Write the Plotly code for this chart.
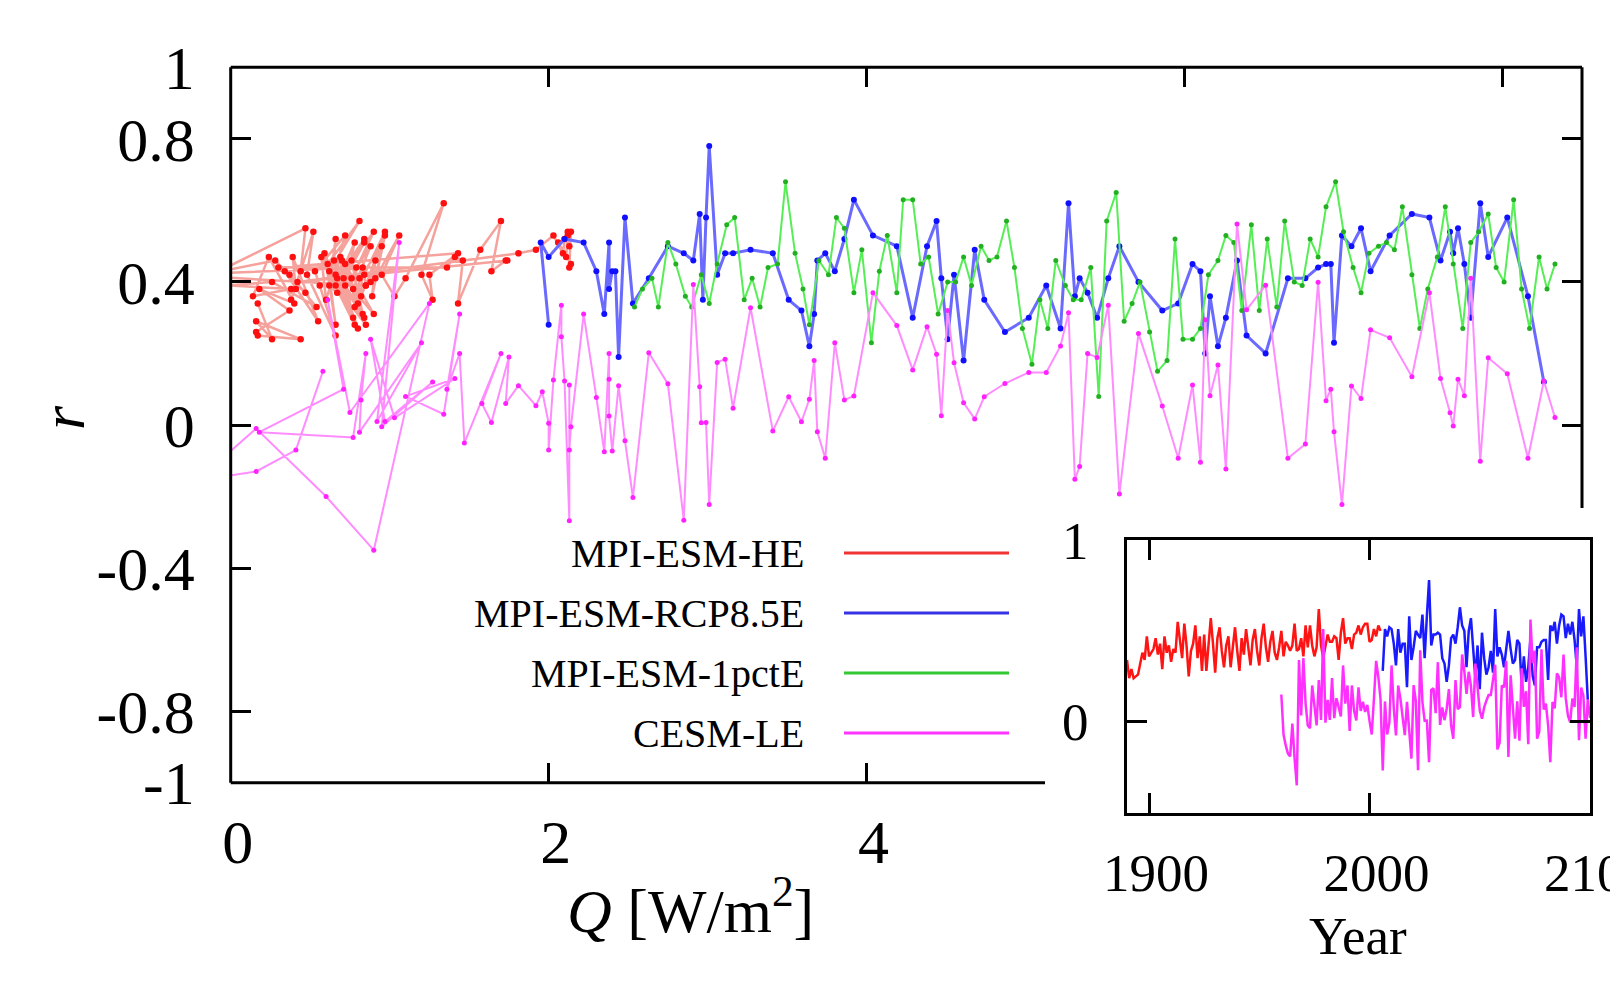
import plotly.graph_objects as go

W, H = 1618, 985
FONT = "Liberation Serif"

# ---------------- data ----------------
# MPI-ESM-HE (historical), yearly from 1890
red_start_year = 1890
red_q = [0.17, 0.26, 0.16, 0.44, 0.17, 0.16, 0.37, 0.18, 0.40, 0.24,
         0.14, 0.38, -0.40, 0.28, 0.47, 0.34, 0.55, 0.39, 0.41, 0.37,
         0.54, 0.26, -0.30, 0.47, 0.44, 0.38, 0.52, 0.48, 0.66, 0.56,
         0.53, 0.72, 0.60, 0.57, 0.78, 0.59, 0.66, 0.61, 0.81, 0.62,
         0.80, 0.65, 0.66, 0.62, 0.84, 0.66, 0.69, 0.77, 0.67, 0.84,
         0.66, 0.85, 0.70, 0.67, 0.84, 0.71, 0.90, 0.72, 0.78, 0.72,
         0.83, 0.76, 0.90, 0.76, 0.78, 0.79, 0.88, 0.77, 0.80, 0.81,
         0.95, 0.82, 0.83, -0.35, 0.85, 0.84, 0.97, 0.85, 0.88, 0.91,
         0.89, 0.97, 0.91, 1.06, 0.95, 1.03, 1.10, 1.34, 1.20, 1.27,
         1.25, 1.43, 0.30, 1.36, 1.41, 1.46, 1.43, 1.57, 1.70, 1.64,
         1.73, 1.74, 0.42, 1.81, 1.92, 2.03, 2.09, 2.10, 2.12, 2.14,
         2.13, 2.14, 2.06, 2.11, 2.12, 2.13]
red_r = [0.34, 0.24, 0.29, 0.24, 0.25, 0.26, 0.32, 0.38, 0.34, 0.47,
         0.36, 0.38, 0.40, 0.46, 0.37, 0.43, 0.29, 0.47, 0.38, 0.42,
         0.33, 0.40, 0.38, 0.55, 0.43, 0.35, 0.54, 0.42, 0.25, 0.39,
         0.43, 0.53, 0.35, 0.47, 0.28, 0.48, 0.28, 0.45, 0.57, 0.43,
         0.27, 0.46, 0.52, 0.39, 0.30, 0.42, 0.47, 0.30, 0.41, 0.52,
         0.39, 0.28, 0.46, 0.37, 0.51, 0.41, 0.31, 0.45, 0.51, 0.39,
         0.31, 0.46, 0.54, 0.41, 0.33, 0.44, 0.50, 0.38, 0.34, 0.41,
         0.50, 0.36, 0.44, 0.42, 0.39, 0.42, 0.54, 0.39, 0.40, 0.46,
         0.36, 0.53, 0.41, 0.53, 0.42, 0.36, 0.41, 0.62, 0.42, 0.35,
         0.42, 0.48, 0.44, 0.44, 0.47, 0.46, 0.34, 0.49, 0.57, 0.43,
         0.46, 0.46, 0.40, 0.48, 0.49, 0.53, 0.48, 0.52, 0.54, 0.54,
         0.44, 0.45, 0.51, 0.47, 0.53, 0.50]

# MPI-ESM-RCP8.5E, yearly from 2006
blue_start_year = 2006
blue_q = [2.00, 1.95, 2.00, 2.10, 2.22, 2.30, 2.35, 2.38, 2.38, 2.40,
          2.42, 2.44, 2.48, 2.53, 2.63, 2.75, 2.85, 2.91, 2.95, 2.97,
          2.99, 3.01, 3.06, 3.11, 3.16, 3.27, 3.41, 3.51, 3.59, 3.64,
          3.67, 3.69, 3.74, 3.80, 3.86, 3.92, 4.04, 4.19, 4.29, 4.38,
          4.44, 4.47, 4.51, 4.55, 4.61, 4.68, 4.74, 4.87, 5.02, 5.13,
          5.22, 5.27, 5.31, 5.34, 5.39, 5.45, 5.52, 5.59, 5.71, 5.86,
          5.96, 6.05, 6.10, 6.13, 6.16, 6.21, 6.26, 6.33, 6.39, 6.51,
          6.65, 6.76, 6.84, 6.89, 6.92, 6.94, 6.99, 7.05, 7.11, 7.17,
          7.29, 7.43, 7.54, 7.61, 7.67, 7.69, 7.72, 7.76, 7.80, 7.86,
          7.91, 8.03, 8.16, 8.26]
blue_r = [0.28, 0.51, 0.47, 0.52, 0.51, 0.43, 0.31, 0.51, 0.38, 0.43,
          0.43, 0.19, 0.58, 0.34, 0.41, 0.50, 0.48, 0.46, 0.59, 0.35,
          0.58, 0.78, 0.42, 0.48, 0.48, 0.49, 0.48, 0.35, 0.32, 0.22,
          0.31, 0.46, 0.48, 0.43, 0.52, 0.63, 0.53, 0.50, 0.30, 0.50,
          0.57, 0.41, 0.24, 0.42, 0.18, 0.49, 0.35, 0.26, 0.30, 0.39,
          0.27, 0.62, 0.36, 0.41, 0.37, 0.30, 0.41, 0.50, 0.40, 0.32,
          0.34, 0.45, 0.43, 0.20, 0.36, 0.22, 0.30, 0.46, 0.25, 0.20,
          0.41, 0.41, 0.44, 0.45, 0.45, 0.23, 0.53, 0.50, 0.55, 0.43,
          0.53, 0.59, 0.58, 0.46, 0.54, 0.48, 0.55, 0.45, 0.30, 0.62,
          0.47, 0.58, 0.36, 0.12]

# MPI-ESM-1pctE
green_q = [2.54, 2.59, 2.65, 2.69, 2.75, 2.80, 2.86, 2.90, 2.96, 3.01,
           3.06, 3.12, 3.17, 3.23, 3.28, 3.33, 3.38, 3.44, 3.49, 3.55,
           3.60, 3.64, 3.70, 3.76, 3.81, 3.86, 3.92, 3.97, 4.03, 4.08,
           4.13, 4.19, 4.23, 4.29, 4.34, 4.39, 4.45, 4.51, 4.56, 4.61,
           4.66, 4.72, 4.77, 4.82, 4.88, 4.93, 4.98, 5.04, 5.09, 5.14,
           5.19, 5.25, 5.30, 5.35, 5.41, 5.46, 5.51, 5.57, 5.62, 5.67,
           5.72, 5.78, 5.83, 5.89, 5.94, 5.99, 6.05, 6.10, 6.15, 6.21,
           6.26, 6.31, 6.36, 6.42, 6.47, 6.52, 6.58, 6.63, 6.69, 6.74,
           6.79, 6.84, 6.89, 6.95, 7.00, 7.06, 7.11, 7.16, 7.22, 7.27,
           7.32, 7.37, 7.43, 7.48, 7.53, 7.59, 7.64, 7.69, 7.75, 7.80,
           7.85, 7.91, 7.96, 8.01, 8.07, 8.12, 8.17, 8.23, 8.28, 8.33]
green_r = [0.33, 0.38, 0.41, 0.33, 0.51, 0.45, 0.36, 0.33, 0.42, 0.34,
           0.45, 0.56, 0.58, 0.35, 0.41, 0.33, 0.44, 0.45, 0.68, 0.48,
           0.38, 0.28, 0.46, 0.42, 0.58, 0.55, 0.37, 0.49, 0.23, 0.43,
           0.53, 0.37, 0.63, 0.63, 0.45, 0.47, 0.31, 0.40, 0.40, 0.47,
           0.39, 0.50, 0.46, 0.47, 0.57, 0.44, 0.27, 0.17, 0.35, 0.27,
           0.46, 0.39, 0.35, 0.35, 0.44, 0.08, 0.57, 0.65, 0.29, 0.34,
           0.40, 0.26, 0.15, 0.18, 0.52, 0.24, 0.24, 0.27, 0.42, 0.46,
           0.53, 0.51, 0.32, 0.56, 0.32, 0.52, 0.33, 0.57, 0.40, 0.39,
           0.52, 0.47, 0.61, 0.68, 0.54, 0.44, 0.37, 0.48, 0.50, 0.51,
           0.49, 0.61, 0.42, 0.27, 0.38, 0.47, 0.61, 0.45, 0.27, 0.51,
           0.54, 0.59, 0.44, 0.40, 0.63, 0.38, 0.27, 0.47, 0.38, 0.45]

# CESM-LE, yearly from 1960
pink_start_year = 1960
pink_q = [0.58, 0.41, 0.16, -0.50, -0.30, 0.16, 0.60, 0.90, 1.25, 0.75,
          0.61, 0.71, 0.18, 0.77, 0.85, 0.82, 0.81, 1.20, 0.92, 1.06,
          0.95, 1.27, 0.97, 0.88, 1.03, 1.41, 1.10, 1.34, 1.44, 1.36,
          1.44, 1.47, 1.70, 1.58, 1.64, 1.75, 1.73, 1.81, 1.92, 1.96,
          2.00, 2.00, 2.03, 2.08, 2.08, 2.10, 2.13, 2.13, 2.13, 2.14,
          2.22, 2.30, 2.35, 2.38, 2.38, 2.38, 2.40, 2.44, 2.48, 2.53,
          2.63, 2.75, 2.85, 2.91, 2.95, 2.96, 2.99, 3.01, 3.06, 3.11,
          3.16, 3.27, 3.41, 3.51, 3.59, 3.64, 3.67, 3.69, 3.74, 3.80,
          3.86, 3.92, 4.04, 4.19, 4.29, 4.38, 4.44, 4.47, 4.51, 4.55,
          4.61, 4.68, 4.74, 4.87, 5.02, 5.13, 5.22, 5.27, 5.31, 5.34,
          5.39, 5.45, 5.52, 5.59, 5.71, 5.86, 5.96, 6.05, 6.10, 6.13,
          6.16, 6.21, 6.26, 6.33, 6.39, 6.51, 6.65, 6.76, 6.84, 6.89,
          6.92, 6.94, 6.99, 7.05, 7.11, 7.17, 7.29, 7.43, 7.54, 7.61,
          7.67, 7.69, 7.72, 7.76, 7.80, 7.86, 7.91, 8.03, 8.16, 8.26,
          8.33]
pink_r = [0.15, -0.07, -0.13, -0.175, -0.19, -0.01, -0.20, -0.35, 0.34, 0.035,
          0.35, 0.10, -0.02, -0.035, 0.20, 0.07, -0.02, 0.23, 0.01, 0.51,
          -0.005, 0.12, 0.01, 0.24, 0.02, 0.13, 0.08, 0.03, 0.31, 0.10,
          0.20, -0.05, 0.20, 0.06, 0.007, 0.19, 0.06, 0.11, 0.054, 0.093,
          0.005, -0.07, 0.126, 0.335, 0.247, 0.123, -0.268, 0.112, -0.07, -0.005,
          0.31, 0.077, -0.075, 0.20, 0.128, 0.025, -0.073, 0.11, -0.044, -0.203,
          0.202, 0.115, -0.266, 0.393, 0.107, 0.006, 0.007, -0.222, 0.175, 0.184,
          0.047, 0.328, -0.017, 0.079, 0.009, 0.072, 0.18, -0.019, -0.093, 0.23,
          0.07, 0.081, 0.37, 0.278, 0.154, 0.275, 0.198, 0.026, 0.32, 0.174,
          0.062, 0.017, 0.079, 0.116, 0.147, 0.147, 0.221, 0.314, -0.152, -0.116,
          0.20, 0.189, 0.335, -0.193, 0.256, 0.053, -0.093, 0.112, -0.104, 0.294,
          0.082, 0.168, -0.123, 0.562, 0.322, 0.391, -0.093, -0.053, 0.399, 0.068,
          0.10, -0.019, -0.222, 0.109, 0.074, 0.266, 0.244, 0.135, 0.37, 0.13,
          0.034, -0.003, 0.128, 0.082, 0.41, -0.101, 0.188, 0.143, -0.093, 0.123,
          0.021]

red_years = list(range(red_start_year, red_start_year + len(red_r)))
blue_years = list(range(blue_start_year, blue_start_year + len(blue_r)))
pink_years = list(range(pink_start_year, pink_start_year + len(pink_r)))

series_names = ["MPI-ESM-HE", "MPI-ESM-RCP8.5E", "MPI-ESM-1pctE", "CESM-LE"]
legend_colors = ["#f03434", "#3434e6", "#34c834", "#ff34ff"]

main_ticks_y = [-1, -0.8, -0.4, 0, 0.4, 0.8, 1]
main_ticks_y_text = ["-1", "-0.8", "-0.4", "0", "0.4", "0.8", "1"]

# ---------------- geometry (screen pixels) ----------------
OFF = 8  # page body margin
MX0, MX1, MY_TOP, MY_BOT = 230.7, 1582.0, 67.3, 782.7
IX0, IX1, IY_TOP, IY_BOT = 1127.0, 1590.0, 540.0, 812.7
CUT_X, CUT_Y = 1045.0, 508.0


def fx(p):
    return (p - OFF) / W


def fy(p):
    return 1 - (p - OFF) / H


fig = go.Figure()

# main panel
fig.add_trace(go.Scatter(x=red_q, y=red_r, mode="lines+markers", name=series_names[0],
                         line=dict(color="#f5a29c", width=2.5),
                         marker=dict(color="#ff1010", size=6.5), xaxis="x", yaxis="y"))
fig.add_trace(go.Scatter(x=blue_q, y=blue_r, mode="lines+markers", name=series_names[1],
                         line=dict(color="#6a6aff", width=3),
                         marker=dict(color="#1010ff", size=6), xaxis="x", yaxis="y"))
fig.add_trace(go.Scatter(x=green_q, y=green_r, mode="lines+markers", name=series_names[2],
                         line=dict(color="#55ee55", width=2),
                         marker=dict(color="#22b022", size=5), xaxis="x", yaxis="y"))
fig.add_trace(go.Scatter(x=pink_q, y=pink_r, mode="lines+markers", name=series_names[3],
                         line=dict(color="#ff8cff", width=2),
                         marker=dict(color="#ff22ff", size=5), xaxis="x", yaxis="y"))
# holders for the mirrored tick axes
fig.add_trace(go.Scatter(x=[], y=[], xaxis="x2", yaxis="y2", showlegend=False, hoverinfo="skip"))

# inset
fig.add_trace(go.Scatter(x=red_years, y=red_r, mode="lines", line=dict(color="#ff1414", width=2.5),
                         xaxis="x3", yaxis="y3", showlegend=False))
fig.add_trace(go.Scatter(x=blue_years, y=blue_r, mode="lines", line=dict(color="#1a1aff", width=2.5),
                         xaxis="x3", yaxis="y3", showlegend=False))
fig.add_trace(go.Scatter(x=pink_years, y=pink_r, mode="lines", line=dict(color="#ff30ff", width=2.5),
                         xaxis="x3", yaxis="y3", showlegend=False))

tick_common = dict(ticks="inside", ticklen=20, tickwidth=2.5, tickcolor="black",
                   showgrid=False, zeroline=False, automargin=False)
big_font = dict(family=FONT, size=62, color="black")
inset_font = dict(family=FONT, size=53, color="black")

main_xd = [fx(MX0), fx(MX1)]
main_yd = [fy(MY_BOT), fy(MY_TOP)]

fig.update_layout(
    template="none",
    width=W, height=H, autosize=False,
    margin=dict(l=0, r=0, t=0, b=0, pad=0),
    paper_bgcolor="white", plot_bgcolor="rgba(0,0,0,0)",
    showlegend=False,
    xaxis=dict(domain=main_xd, range=[0, 8.5], anchor="y", tickvals=[0, 2, 4],
               ticktext=["0", "2", "4"], showline=False, tickfont=big_font,
               ticklabelstandoff=17, ticklabelshift=7, **tick_common),
    xaxis2=dict(domain=main_xd, range=[0, 8.5], anchor="y", overlaying="x", side="top",
                tickvals=[2, 4, 6, 8], showticklabels=False, showline=False, **tick_common),
    yaxis=dict(domain=main_yd, range=[-1, 1], anchor="x", tickvals=main_ticks_y,
               ticktext=main_ticks_y_text, showline=False, tickfont=big_font,
               ticklabelstandoff=35, **tick_common),
    yaxis2=dict(domain=main_yd, range=[-1, 1], anchor="x", overlaying="y", side="right",
                tickvals=[0, 0.4, 0.8], showticklabels=False, showline=False, **tick_common),
    xaxis3=dict(domain=[fx(IX0), fx(IX1)], range=[1890, 2100], anchor="y3",
                tickvals=[1900, 2000, 2100], ticktext=["1900", "2000", "2100"],
                showline=True, linecolor="black", linewidth=3, mirror="ticks",
                ticklabeloverflow="allow",
                tickfont=inset_font, ticklabelstandoff=12, ticklabelshift=7, **tick_common),
    yaxis3=dict(domain=[fy(IY_BOT), fy(IY_TOP)], range=[-0.5, 1.0], anchor="x3",
                tickvals=[0, 1], ticktext=["0", "1"],
                showline=True, linecolor="black", linewidth=3, mirror="ticks",
                tickfont=inset_font, ticklabelstandoff=25, **tick_common),
)

# main frame (partly hidden behind the inset)
frame = dict(color="black", width=3)
fig.add_shape(type="line", xref="paper", yref="paper", x0=fx(MX0), x1=fx(MX1),
              y0=fy(MY_TOP), y1=fy(MY_TOP), line=frame)
fig.add_shape(type="line", xref="paper", yref="paper", x0=fx(MX0), x1=fx(MX0),
              y0=fy(MY_TOP), y1=fy(MY_BOT), line=frame)
fig.add_shape(type="line", xref="paper", yref="paper", x0=fx(MX1), x1=fx(MX1),
              y0=fy(MY_TOP), y1=fy(CUT_Y), line=frame)
fig.add_shape(type="line", xref="paper", yref="paper", x0=fx(MX0), x1=fx(CUT_X),
              y0=fy(MY_BOT), y1=fy(MY_BOT), line=frame)

# axis titles
fig.add_annotation(text="<i>r</i>", xref="paper", yref="paper", x=fx(63), y=fy(418),
                   textangle=-90, showarrow=False, font=big_font, xanchor="center", yanchor="middle")
fig.add_annotation(text="<i>Q</i> [W/m<sup>2</sup>]", xref="paper", yref="paper",
                   x=fx(690), y=fy(906), showarrow=False, font=big_font,
                   xanchor="center", yanchor="middle")
fig.add_annotation(text="Year", xref="paper", yref="paper", x=fx(1358), y=fy(936),
                   showarrow=False, font=inset_font, xanchor="center", yanchor="middle")

# legend (text on the left, sample line on the right)
leg_y = [553, 613, 673, 733]
for name, col, yy in zip(series_names, legend_colors, leg_y):
    fig.add_annotation(text=name, xref="paper", yref="paper", x=fx(806), y=fy(yy),
                       showarrow=False, xanchor="right", yanchor="middle",
                       font=dict(family=FONT, size=40, color="black"))
    fig.add_shape(type="line", xref="paper", yref="paper", x0=fx(844), x1=fx(1009),
                  y0=fy(yy), y1=fy(yy), line=dict(color=col, width=3))

fig.write_html("out.html")
